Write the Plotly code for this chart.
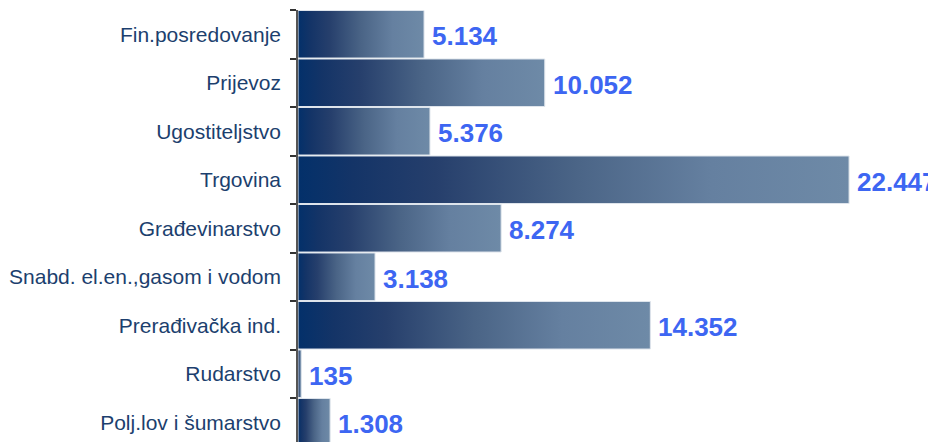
import plotly.graph_objects as go

categories = ["Polj.lov i šumarstvo", "Rudarstvo", "Prerađivačka ind.",
              "Snabd. el.en.,gasom i vodom", "Građevinarstvo", "Trgovina",
              "Ugostiteljstvo", "Prijevoz", "Fin.posredovanje"]
values = [1308, 135, 14352, 3138, 8274, 22447, 5376, 10052, 5134]
value_labels = ["1.308", "135", "14.352", "3.138", "8.274", "22.447", "5.376", "10.052", "5.134"]

gradient = [[0, "#03306a"], [0.1, "#143467"], [0.25, "#263f6c"],
            [0.5, "#4a6486"], [0.75, "#6580a0"], [1, "#6e8aa7"]]

half = 0.49
fig = go.Figure()
for i, v in enumerate(values):
    fig.add_trace(go.Scatter(
        x=[0, v, v, 0, 0],
        y=[i - half, i - half, i + half, i + half, i - half],
        mode="lines",
        line=dict(color="#dfe5ec", width=1),
        fill="toself",
        fillgradient=dict(type="horizontal", colorscale=gradient),
        hoverinfo="skip",
        showlegend=False,
    ))

for i, (v, t) in enumerate(zip(values, value_labels)):
    fig.add_annotation(x=v, y=i, text=t, showarrow=False, xanchor="left",
                       yanchor="middle", xshift=6, yshift=-2,
                       font=dict(family="Liberation Sans, Arial", size=26,
                                 color="#3d66f2", weight="bold"))

# the page body has an 8px default margin, so sizes/margins are reduced by 8px
fig.update_layout(
    width=928, height=434,
    margin=dict(l=290, r=0, t=2, b=0, autoexpand=False),
    plot_bgcolor="white", paper_bgcolor="white",
    xaxis=dict(range=[0, 25988], visible=False, showgrid=False, zeroline=False),
    yaxis=dict(range=[-0.5 + 4.5 / 48.5, 8.5], tickmode="array",
               tickvals=list(range(len(categories))), ticktext=categories,
               showgrid=False, zeroline=False, showline=True,
               linecolor="#555555", linewidth=1.5,
               ticks="", ticklabelstandoff=11,
               tickfont=dict(family="Liberation Sans, Arial", size=21,
                             color="#1c3f6e")),
    showlegend=False,
)

# boundary tick marks on the category axis
fig.update_yaxes(minor=dict(tickmode="array",
                            tickvals=[i + 0.5 for i in range(-1, len(categories))],
                            ticks="outside", ticklen=6, tickcolor="#333333",
                            tickwidth=1.5, showgrid=False))

fig.write_html("out.html")
